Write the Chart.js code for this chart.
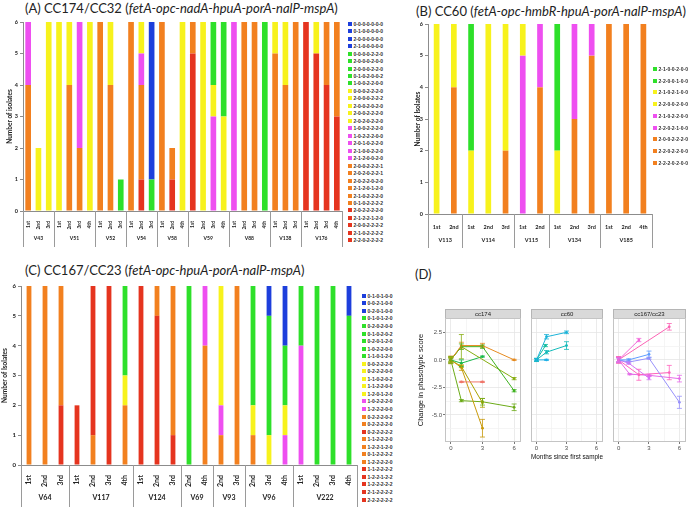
<!DOCTYPE html>
<html>
<head>
<meta charset="utf-8">
<script src="https://cdn.jsdelivr.net/npm/chart.js@4.4.0/dist/chart.umd.min.js"></script>
<style>
  html, body { margin: 0; padding: 0; background: #fff; }
  #page { position: relative; width: 691px; height: 507px; overflow: hidden; font-family: Lato, "Open Sans", sans-serif; }
  #page canvas, .title, .legend { position: absolute; }
  .title { font-size: 13px; color: #222; white-space: nowrap; line-height: 15px; }
  .legend { font-size: 5px; font-weight: bold; color: #333; font-family: "Liberation Sans", sans-serif; }
  .legend div { display: flex; align-items: center; white-space: nowrap; }
  .legend span { display: inline-block; width: 4px; height: 4px; margin-right: 1.5px; }
</style>
</head>
<body>
<div id="page">
  <div class="title" style="left:25px;top:1px">(A) CC174/CC32 (<i>fetA-opc-nadA-hpuA-porA-nalP-mspA</i>)</div>
  <div class="title" style="left:416px;top:4px">(B) CC60 (<i>fetA-opc-hmbR-hpuA-porA-nalP-mspA</i>)</div>
  <div class="title" style="left:25px;top:263px">(C) CC167/CC23 (<i>fetA-opc-hpuA-porA-nalP-mspA</i>)</div>
  <div class="title" style="left:415px;top:267px">(D)</div>

  <canvas id="chartA" width="345" height="236" style="left:0;top:14px"></canvas>
  <div class="legend" id="legendA" style="left:348px;top:20px"></div>

  <canvas id="chartB" width="275" height="236" style="left:380px;top:14px"></canvas>
  <div class="legend" id="legendB" style="left:653px;top:63px"></div>

  <canvas id="chartC" width="362" height="227" style="left:0;top:280px"></canvas>
  <div class="legend" id="legendC" style="left:362px;top:292px"></div>

  <canvas id="facet1" width="115" height="158" style="left:410px;top:305px"></canvas>
  <canvas id="facet2" width="80" height="158" style="left:527px;top:305px"></canvas>
  <canvas id="facet3" width="81" height="158" style="left:609px;top:305px"></canvas>
</div>

<script>
// ------------------------------------------------------------
// (A) CC174/CC32
// ------------------------------------------------------------
const groupsA = ['V43', 'V51', 'V52', 'V54', 'V58', 'V59', 'V88', 'V138', 'V176'];
const samplesA = [
    ['1st', '2nd', '3rd'],
    ['1st', '2nd', '3rd', '4th'],
    ['1st', '2nd', '3rd'],
    ['1st', '2nd', '3rd'],
    ['1st', '2nd', '4th'],
    ['1st', '2nd', '3rd', '4th'],
    ['1st', '2nd', '3rd', '4th'],
    ['1st', '2nd', '3rd'],
    ['1st', '2nd', '3rd', '4th']
];
// legend order, top to bottom
const genotypesA = [
    '0-0-0-0-0-0-0', '0-1-0-0-0-0-0', '2-0-0-0-0-0-0', '2-1-0-0-0-0-0',
    '0-0-0-0-2-2-0', '2-0-0-0-2-0-0', '2-0-0-0-2-2-0', '0-1-0-2-0-0-2', '1-0-0-2-2-0-0',
    '0-0-0-2-2-2-0', '2-0-0-0-2-2-2', '2-0-0-2-0-2-0', '2-0-0-2-2-2-0', '2-0-2-0-2-2-0',
    '1-0-0-2-2-2-0', '1-0-2-2-2-0-0', '2-0-1-0-2-2-0', '2-1-0-0-2-2-0', '2-1-2-0-0-2-0',
    '2-0-0-2-2-2-1', '2-0-2-0-2-2-1', '2-0-2-2-0-2-0', '2-1-2-0-1-2-0', '2-1-0-2-2-2-0', '0-1-0-2-2-2-2',
    '2-0-2-2-2-2-0', '2-1-2-2-1-2-0', '2-0-0-2-2-2-2', '2-1-0-2-2-2-2', '2-2-0-2-2-2-2'
];
// each bar, bottom up: [genotype index, isolates]
const barsA = [
    [[20, 4], [14, 2]], [[9, 2]], [[9, 6]],
    [[10, 6]], [[19, 4], [10, 2]], [[21, 2], [15, 4]], [[11, 6]],
    [[19, 6]], [[19, 4], [12, 2]], [[5, 1]],
    [[22, 6]], [[26, 1], [22, 3], [16, 1], [12, 1]], [[6, 1], [0, 5]],
    [[23, 6]], [[27, 1], [23, 1]], [[13, 6]],
    [[28, 5], [24, 1]], [[13, 6]], [[17, 3], [13, 1], [7, 2]], [[12, 3], [7, 3]],
    [[18, 6]], [[20, 6]], [[20, 6]], [[8, 6]],
    [[21, 5], [11, 1]], [[21, 4], [11, 2]], [[21, 6]],
    [[29, 6]], [[29, 5], [11, 1]], [[25, 4], [19, 2]], [[25, 3], [24, 3]]
];

// ------------------------------------------------------------
// (B) CC60
// ------------------------------------------------------------
const groupsB = ['V113', 'V114', 'V115', 'V134', 'V185'];
const samplesB = [
    ['1st', '2nd'],
    ['1st', '2nd', '3rd'],
    ['1st', '2nd'],
    ['1st', '2nd', '3rd'],
    ['1st', '2nd', '4th']
];
const genotypesB = [
    '2-1-0-0-2-0-0', '2-2-0-0-1-0-0', '2-1-0-2-1-0-0', '2-2-0-0-2-0-0', '2-1-0-2-2-0-0',
    '2-2-0-2-1-0-0', '2-0-0-2-2-2-0', '2-2-0-2-2-0-0', '2-2-2-0-2-0-0'
];
const barsB = [
    [[3, 6]], [[8, 4], [3, 2]],
    [[2, 2], [0, 4]], [[3, 6]], [[7, 2], [3, 4]],
    [[4, 5], [2, 1]], [[6, 4], [5, 2]],
    [[2, 2], [1, 4]], [[7, 3], [4, 3]], [[7, 5], [5, 1]],
    [[8, 6]], [[8, 6]], [[6, 6]]
];

// ------------------------------------------------------------
// (C) CC167/CC23
// ------------------------------------------------------------
const groupsC = ['V64', 'V117', 'V124', 'V69', 'V93', 'V96', 'V222'];
const samplesC = [
    ['1st', '2nd', '3rd'],
    ['1st', '2nd', '3rd', '4th'],
    ['1st', '2nd', '3rd'],
    ['2nd', '4th'],
    ['2nd', '3rd'],
    ['2nd', '3rd', '4th'],
    ['1st', '2nd', '3rd', '4th']
];
const genotypesC = [
    '0-1-0-1-0-0', '0-0-2-1-0-0', '0-2-0-1-0-0',
    '0-1-0-1-2-0', '0-2-0-2-0-0', '0-1-0-2-0-2', '0-2-0-1-2-0', '1-0-2-2-0-0', '1-1-0-1-2-0',
    '0-0-2-2-2-0', '0-2-2-2-0-0', '1-1-0-2-0-2', '1-1-2-2-0-0', '1-2-0-1-2-0',
    '1-0-2-2-2-0', '1-2-2-2-0-0',
    '0-2-2-2-0-2', '0-2-2-2-2-0',
    '0-2-2-2-2-2',
    '1-1-2-2-2-0', '1-2-2-1-2-0', '0-1-2-2-2-2', '1-2-2-2-2-0',
    '1-1-2-2-2-2', '1-2-2-1-2-2', '1-2-2-2-2-2', '2-1-2-2-2-2', '2-2-2-2-2-2'
];
const barsC = [
    [[20, 6]], [[20, 6]], [[24, 2], [20, 4]],
    [[25, 2]], [[21, 1], [18, 5]], [[26, 6]], [[22, 2], [10, 1], [4, 3]],
    [[27, 6]], [[23, 5], [19, 1]], [[24, 1], [19, 5]],
    [[5, 6]], [[16, 4], [14, 2]],
    [[17, 1], [15, 1], [11, 4]], [[21, 6]],
    [[22, 1], [12, 1], [6, 4]], [[13, 1], [7, 4], [1, 1]], [[14, 1], [9, 1], [8, 2], [0, 2]],
    [[15, 4], [3, 2]], [[3, 6]], [[6, 6]], [[5, 5], [2, 1]]
];

// ------------------------------------------------------------
// (D) change in phasotypic score: [month, change, ± error]
// ------------------------------------------------------------
const monthTicks = [0, 1.5, 3, 4.5, 6];
const scoreTicks = [-6.25, -5, -3.75, -2.5, -1.25, 0, 1.25, 2.5, 3.75];
const facetNames = ['cc174', 'cc60', 'cc167/cc23'];
const cc174 = [
    [[0, 0, 0.35], [1, 1.3, 0.3], [3, 1.3, 0.2], [6, 0, 0.05]],
    [[0, 0, 0.3], [1, 1.2, 0.25], [3, 1.2, 0.15], [6, -2.8, 0.1]],
    [[0, 0, 0.3], [1, 1.2, 1.1], [6, -1.7, 0.1]],
    [[0, 0, 0.2], [1, -0.3, 0.3], [3, 0.3, 0.05]],
    [[1, -2, 0.05], [3, -2, 0.05]],
    [[0, 0, 0.2], [1, -0.7, 0.25], [3, -6.2, 0.8]],
    [[0, 0, 0.2], [1, -0.6, 0.1], [3, -3.9, 0.4]],
    [[0, 0, 0.1], [1, -3.7, 0.1], [3, -3.8, 0.3], [6, -4.3, 0.3]]
];
const cc60 = [
    [[0, 0, 0.1], [1, 2.1, 0.2], [3, 2.5, 0.12]],
    [[0, 0, 0.15], [1, 0.7, 0.15], [3, 1.3, 0.35]],
    [[0, 0, 0.1], [0.9, 1.3, 0.1]],
    [[0, 0, 0.1], [1, 0, 0.05]]
];
const cc167 = [
    [[0, 0, 0.3], [2, 1.8, 0.15]],
    [[0, 0, 0.3], [5, 3.0, 0.3]],
    [[0, 0, 0.2], [1, 0, 0.1], [3, 0.5, 0.3]],
    [[0, 0, 0.2], [1, -0.2, 0.1], [3, 0.15, 0.1], [6, -3.85, 0.55]],
    [[0, 0, 0.2], [1, -0.3, 0.1], [3, -1.65, 0.15]],
    [[0, 0, 0.2], [2, -1.35, 0.5], [5, -1.15, 0.65]],
    [[0, 0, 0.2], [1.1, -1.3, 0.05], [3, -1.4, 0.1], [6, -1.7, 0.3]]
];

// ============================================================
// Styles
// ============================================================
const BLUE = '#1d3fdc', GREEN = '#2ee02a', YELLOW = '#f7f21c', MAGENTA = '#ee4ff0', ORANGE = '#f2801f', RED = '#e5341f';
const coloursA = [BLUE, BLUE, BLUE, BLUE, GREEN, GREEN, GREEN, GREEN, GREEN,
    YELLOW, YELLOW, YELLOW, YELLOW, YELLOW, MAGENTA, MAGENTA, MAGENTA, MAGENTA, MAGENTA,
    ORANGE, ORANGE, ORANGE, ORANGE, ORANGE, ORANGE, RED, RED, RED, RED, RED];
const coloursB = [GREEN, GREEN, YELLOW, YELLOW, MAGENTA, MAGENTA, ORANGE, ORANGE, ORANGE];
const coloursC = [BLUE, BLUE, BLUE, GREEN, GREEN, GREEN, GREEN, GREEN, GREEN,
    YELLOW, YELLOW, YELLOW, YELLOW, YELLOW, MAGENTA, MAGENTA, ORANGE, ORANGE, RED,
    ORANGE, ORANGE, ORANGE, ORANGE, RED, RED, RED, RED, RED];
const cc174Colours = ['#e58a1f', '#3fb21f', '#86ad10', '#17b94a', '#f0766a', '#c99a0a', '#aba300', '#6cab18'];
const cc60Colours = ['#1cb3d8', '#14bab9', '#10bd9f', '#1eb0e6'];
const cc167Colours = ['#f266d9', '#fb63b4', '#5f9dff', '#9790fb', '#d474f8', '#ff62bc', '#e46ae8'];

Chart.defaults.font.family = 'Lato, "Open Sans", sans-serif';
Chart.defaults.color = '#222';

// ============================================================
// Helpers
// ============================================================

// datasets listed bottom-up (reverse of the legend) so stacks pile up like Excel
function stackedDatasets(genotypes, colours, bars) {
    const sets = [];
    for (let g = genotypes.length - 1; g >= 0; g--) {
        sets.push({
            label: genotypes[g],
            backgroundColor: colours[g],
            data: bars.map(bar => {
                const seg = bar.find(s => s[0] === g);
                return seg ? seg[1] : null;
            })
        });
    }
    return sets;
}

function buildLegend(id, genotypes, colours, step) {
    const box = document.getElementById(id);
    genotypes.forEach((g, i) => {
        const row = document.createElement('div');
        row.style.height = step + 'px';
        row.innerHTML = '<span style="background:' + colours[i] + '"></span>' + g;
        box.appendChild(row);
    });
}

// second row of the category axis: sample groups (patients) with separators
const groupAxis = {
    id: 'groupAxis',
    afterDraw(chart, args, o) {
        const xs = chart.scales.x, ctx = chart.ctx;
        const step = xs.getPixelForValue(1) - xs.getPixelForValue(0);
        ctx.save();
        ctx.strokeStyle = '#9a9a9a';
        ctx.lineWidth = 1;
        ctx.fillStyle = '#222';
        ctx.font = o.font;
        ctx.textAlign = 'center';
        ctx.textBaseline = 'middle';
        const vline = px => {
            const x = Math.round(px) + 0.5;
            ctx.beginPath(); ctx.moveTo(x, xs.top); ctx.lineTo(x, xs.top + o.lineLen); ctx.stroke();
        };
        let i0 = 0;
        o.groups.forEach((g, k) => {
            const n = o.sizes[k];
            const left = xs.getPixelForValue(i0) - step / 2;
            const right = xs.getPixelForValue(i0 + n - 1) + step / 2;
            vline(left);
            ctx.fillText(g, (left + right) / 2, xs.top + o.labelY);
            i0 += n;
        });
        vline(xs.right);
        ctx.restore();
    }
};

function barChart(id, groups, samples, genotypes, colours, bars, o) {
    return new Chart(document.getElementById(id), {
        type: 'bar',
        data: { labels: samples.flat(), datasets: stackedDatasets(genotypes, colours, bars) },
        options: {
            responsive: false,
            animation: false,
            layout: { padding: o.padding },
            datasets: { bar: { barPercentage: o.barPct, categoryPercentage: 1, borderWidth: 0 } },
            plugins: {
                legend: { display: false },
                tooltip: { enabled: false },
                groupAxis: { groups, sizes: samples.map(s => s.length), font: o.groupFont, labelY: o.groupY, lineLen: o.lineLen }
            },
            scales: {
                x: {
                    stacked: true,
                    grid: { display: false },
                    border: { color: '#8c8c8c' },
                    ticks: { autoSkip: false, minRotation: o.rot, maxRotation: o.rot, padding: 2, font: o.tickFont, color: '#222' },
                    afterFit: s => { s.height = o.xHeight; }
                },
                y: {
                    stacked: true, min: 0, max: 6,
                    ticks: { stepSize: 1, padding: 2, font: o.yFont, color: '#222' },
                    grid: { drawOnChartArea: false, tickLength: 3, color: '#8c8c8c' },
                    border: { color: '#8c8c8c' },
                    title: { display: true, text: o.yTitle, font: o.yTitleFont, color: '#222', padding: o.yTitlePad },
                    afterFit: s => { s.width = o.yWidth; }
                }
            }
        },
        plugins: [groupAxis]
    });
}

// ============================================================
// Panels A, B, C
// ============================================================
barChart('chartA', groupsA, samplesA, genotypesA, coloursA, barsA, {
    padding: { left: 2, right: 3, top: 8 }, barPct: 0.55, rot: 90,
    tickFont: { size: 5, weight: 'bold' }, yFont: { size: 5.5, weight: 'bold' },
    groupFont: 'bold 5px Lato', groupY: 27, lineLen: 36, xHeight: 39, yWidth: 21,
    yTitle: 'Number of isolates', yTitleFont: { size: 6.5, weight: 'bold' }, yTitlePad: { top: 4, bottom: 2 }
});
buildLegend('legendA', genotypesA, coloursA, 7.48);

barChart('chartB', groupsB, samplesB, genotypesB, coloursB, barsB, {
    padding: { left: 30, right: 3, top: 10 }, barPct: 0.33, rot: 0,
    tickFont: { size: 5.5, weight: 'bold' }, yFont: { size: 5.5, weight: 'bold' },
    groupFont: 'bold 5.5px Lato', groupY: 26, lineLen: 34, xHeight: 36, yWidth: 18,
    yTitle: 'Number of Isolates', yTitleFont: { size: 6.5, weight: 'bold' }, yTitlePad: { top: 4, bottom: 2 }
});
buildLegend('legendB', genotypesB, coloursB, 11.75);

barChart('chartC', groupsC, samplesC, genotypesC, coloursC, barsC, {
    padding: { left: 0, right: 5, top: 6 }, barPct: 0.3, rot: 90,
    tickFont: { size: 7, weight: 'bold' }, yFont: { size: 6, weight: 'bold' },
    groupFont: 'bold 7px Lato', groupY: 33, lineLen: 42, xHeight: 42, yWidth: 21,
    yTitle: 'Number of Isolates', yTitleFont: { size: 6.5, weight: 'bold' }, yTitlePad: { top: 1, bottom: 2 }
});
buildLegend('legendC', genotypesC, coloursC, 7.55);

// ============================================================
// Panel D: three facets
// ============================================================
const facetFrame = {
    id: 'facetFrame',
    beforeDraw(chart, args, o) {
        const { ctx, chartArea: c } = chart;
        ctx.save();
        ctx.fillStyle = '#d9d9d9';
        ctx.fillRect(c.left, c.top - o.strip, c.right - c.left, o.strip);
        ctx.strokeStyle = '#b5b5b5';
        ctx.strokeRect(c.left + 0.5, c.top - o.strip + 0.5, c.right - c.left - 1, o.strip);
        ctx.fillStyle = '#1a1a1a';
        ctx.font = '6px "Liberation Sans"';
        ctx.textAlign = 'center';
        ctx.textBaseline = 'middle';
        ctx.fillText(o.label, (c.left + c.right) / 2, c.top - o.strip / 2 + 0.5);
        ctx.restore();
    },
    afterDatasetsDraw(chart) {
        const { ctx } = chart, ys = chart.scales.y;
        ctx.save();
        ctx.lineWidth = 0.8;
        chart.data.datasets.forEach((ds, i) => {
            const meta = chart.getDatasetMeta(i);
            ctx.strokeStyle = ds.borderColor;
            ds.data.forEach((p, j) => {
                const x = meta.data[j].x;
                const t = ys.getPixelForValue(p.y + p.e), b = ys.getPixelForValue(p.y - p.e);
                ctx.beginPath();
                ctx.moveTo(x, t); ctx.lineTo(x, b);
                ctx.moveTo(x - 2.5, t); ctx.lineTo(x + 2.5, t);
                ctx.moveTo(x - 2.5, b); ctx.lineTo(x + 2.5, b);
                ctx.stroke();
            });
        });
        ctx.restore();
    },
    afterDraw(chart) {
        const { ctx, chartArea: c } = chart;
        ctx.save();
        ctx.strokeStyle = '#c4c4c4';
        ctx.lineWidth = 1;
        ctx.strokeRect(c.left + 0.5, c.top + 0.5, c.right - c.left - 1, c.bottom - c.top - 1);
        ctx.restore();
    }
};

const isMajorX = v => v % 3 === 0;
const isMajorY = v => v % 2.5 === 0;

function facet(id, k, lines, colours, first, xTitle) {
    return new Chart(document.getElementById(id), {
        type: 'scatter',
        data: {
            datasets: lines.map((pts, i) => ({
                data: pts.map(p => ({ x: p[0], y: p[1], e: p[2] })),
                showLine: true,
                borderColor: colours[i],
                backgroundColor: colours[i],
                borderWidth: 1,
                pointRadius: 1.4,
                pointBorderWidth: 0
            }))
        },
        options: {
            responsive: false,
            animation: false,
            layout: { padding: { top: 13 } },
            plugins: {
                legend: { display: false },
                tooltip: { enabled: false },
                facetFrame: { label: facetNames[k], strip: 9 }
            },
            scales: {
                x: {
                    type: 'linear', min: -0.55, max: 6.65,
                    afterBuildTicks: s => { s.ticks = monthTicks.map(v => ({ value: v })); },
                    ticks: {
                        font: { size: 6, family: '"Liberation Sans"' }, color: '#4d4d4d', padding: 1,
                        callback: v => isMajorX(v) ? String(v) : ''
                    },
                    grid: {
                        color: c => isMajorX(c.tick.value) ? '#e6e6e6' : '#f3f3f3',
                        tickColor: c => isMajorX(c.tick.value) ? '#555' : 'rgba(0,0,0,0)',
                        tickLength: 2, lineWidth: 0.8
                    },
                    border: { display: false },
                    title: {
                        display: !!xTitle, text: xTitle || '', color: '#111',
                        font: { size: 7.5, family: '"Liberation Sans"' }, padding: { top: 0, bottom: 2 }
                    },
                    afterFit: s => { s.height = 21; }
                },
                y: {
                    min: -7.45, max: 3.8,
                    afterBuildTicks: s => { s.ticks = scoreTicks.map(v => ({ value: v })); },
                    ticks: {
                        display: first,
                        font: { size: 6, family: '"Liberation Sans"' }, color: '#4d4d4d', padding: 1,
                        callback: v => isMajorY(v) ? v.toFixed(1) : ''
                    },
                    grid: {
                        color: c => isMajorY(c.tick.value) ? '#e6e6e6' : '#f3f3f3',
                        tickColor: c => (first && isMajorY(c.tick.value)) ? '#555' : 'rgba(0,0,0,0)',
                        tickLength: first ? 2 : 0, lineWidth: 0.8
                    },
                    border: { display: false },
                    title: {
                        display: first, text: 'Change in phasotypic score', color: '#111',
                        font: { size: 7.5, family: '"Liberation Sans"' }, padding: { top: 6, bottom: 1 }
                    },
                    afterFit: s => { s.width = first ? 35 : 0; }
                }
            }
        },
        plugins: [facetFrame]
    });
}

facet('facet1', 0, cc174, cc174Colours, true, null);
facet('facet2', 1, cc60, cc60Colours, false, 'Months since first sample');
facet('facet3', 2, cc167, cc167Colours, false, null);
</script>
</body>
</html>
